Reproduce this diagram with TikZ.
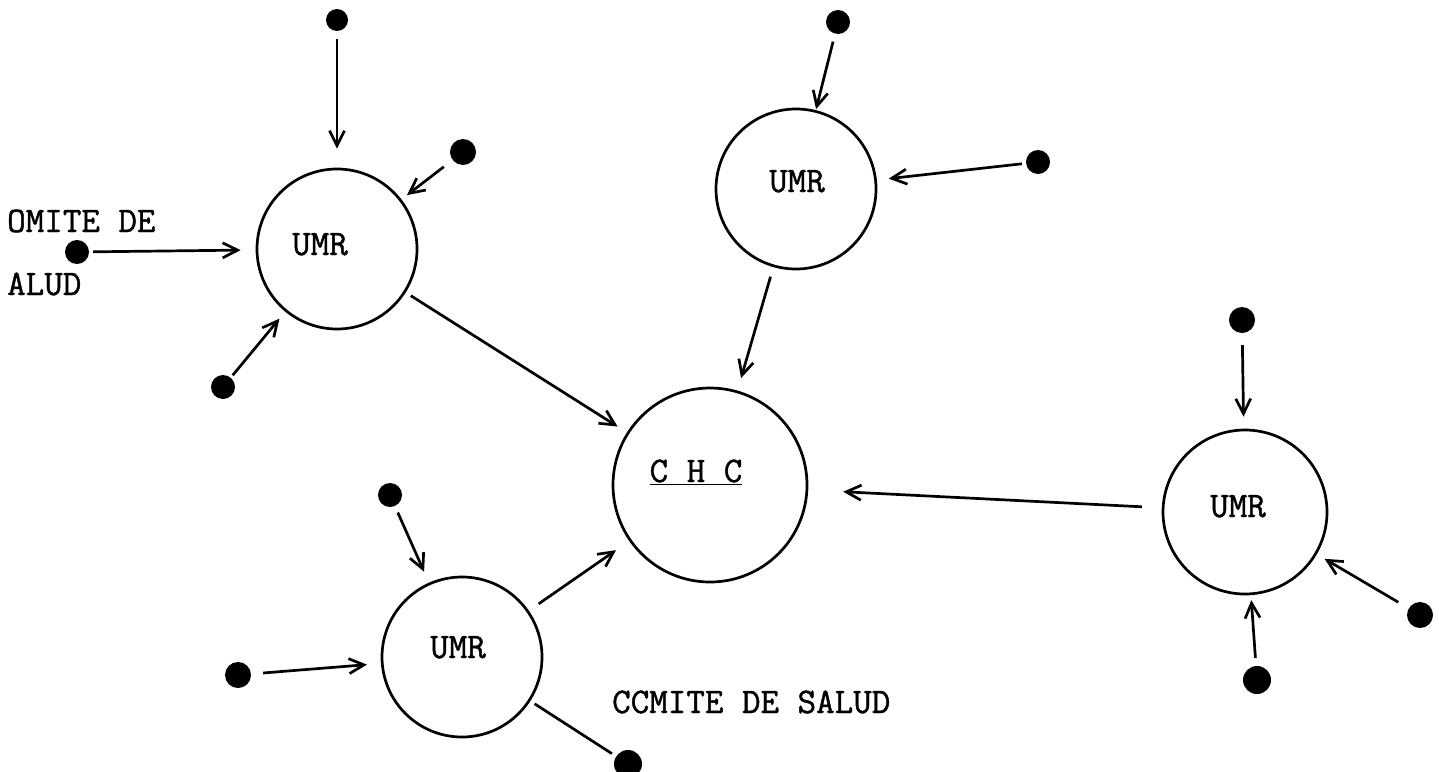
\documentclass[tikz,border=0pt]{standalone}
\usepackage{fontspec}
\newfontfamily\typefont[FakeBold=1.2]{Latin Modern Mono}
\usetikzlibrary{arrows.meta}
\begin{document}
\begin{tikzpicture}[x=1pt,y=-1pt,
  umr/.style={circle,draw,line width=2.7pt,minimum size=160pt,inner sep=0pt},
  dot/.style={circle,fill,minimum size=24pt,inner sep=0pt},
  flow/.style={line width=2.7pt,-{Straight Barb[length=15pt,width=15pt]}},
  link/.style={line width=2.7pt},
  lbl/.style={font=\fontsize{36}{40}\selectfont\typefont,inner sep=0pt,anchor=base}]
\useasboundingbox (0,0) rectangle (1439,771);
% circles
\node[umr] (A) at (337,249) {};
\node[umr] (B) at (796,189) {};
\node[umr,minimum size=194pt] (C) at (710,485) {};
\node[umr] (D) at (462,657) {};
\node[umr,minimum size=164pt] (E) at (1245,512) {};
% dots
\node[dot,minimum size=22pt] (a1) at (337,20) {};
\node[dot,minimum size=26pt] (a2) at (463,152) {};
\node[dot] (a3) at (77,252) {};
\node[dot] (a4) at (223,387) {};
\node[dot] (b1) at (838,22) {};
\node[dot] (b2) at (1038,162) {};
\node[dot] (d1) at (390,495) {};
\node[dot,minimum size=26pt] (d2) at (238,675) {};
\node[dot,minimum size=28pt] (d3) at (628,764) {};
\node[dot,minimum size=26pt] (e1) at (1242,320) {};
\node[dot,minimum size=26pt] (e2) at (1420,615) {};
\node[dot,minimum size=28pt] (e3) at (1257,680) {};
% labels
\node[lbl] (tA) at (320,255) {UMR};
\node[lbl] (tB) at (797,192) {UMR};
\node[lbl] (tC) at (696,482) {\underline{C H C}};
\node[lbl] (tD) at (458,658) {UMR};
\node[lbl] (tE) at (1238,517) {UMR};
\node[lbl,anchor=base west] (t1) at (7,232) {OMITE DE};
\node[lbl,anchor=base west] (t2) at (7,295) {ALUD};
\node[lbl,anchor=base west] (t3) at (612,713) {CCMITE DE SALUD};
% connectors into A
\draw[flow,shorten <=8pt,shorten >=19pt] (a1) -- (A);
\draw[flow,shorten <=11pt,shorten >=7pt] (a2) -- (A);
\draw[flow,shorten <=4pt,shorten >=15pt] (a3) -- (A);
\draw[flow,shorten <=3pt,shorten >=9pt] (a4) -- (A);
% into B
\draw[flow,shorten <=8pt,shorten >=1pt] (b1) -- (B);
\draw[flow,shorten <=4pt,shorten >=12pt] (b2) -- (B);
% into C
\draw[flow,shorten <=10pt,shorten >=13pt] (B) -- (C);
\draw[flow,shorten <=6pt,shorten >=11pt] (A) -- (C);
\draw[flow,shorten <=12pt,shorten >=16pt] (D) -- (C);
\draw[flow,shorten <=20pt,shorten >=35pt] (E) -- (C);
% into D
\draw[flow,shorten <=7pt,shorten >=12pt] (d1) -- (D);
\draw[flow,shorten <=12pt,shorten >=14pt] (d2) -- (D);
\draw[link,shorten <=5pt,shorten >=5pt] (d3) -- (D);
% into E
\draw[flow,shorten <=12pt,shorten >=12pt] (e1) -- (E);
\draw[flow,shorten <=12pt,shorten >=9pt] (e2) -- (E);
\draw[flow,shorten <=8pt,shorten >=5pt] (e3) -- (E);
\end{tikzpicture}
\end{document}
